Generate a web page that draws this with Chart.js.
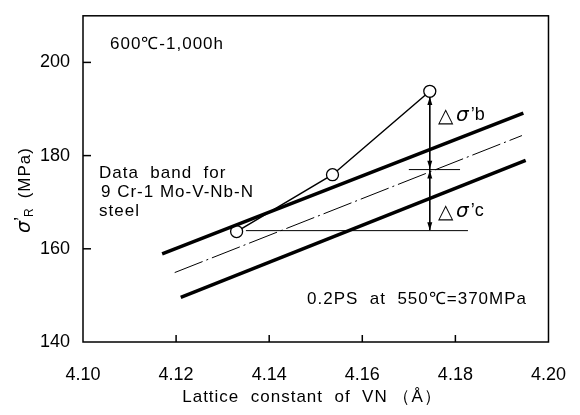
<!DOCTYPE html>
<html>
<head>
<meta charset="utf-8">
<script src="https://cdn.jsdelivr.net/npm/chart.js@4.4.1/dist/chart.umd.min.js"></script>
<style>
  html, body { margin: 0; padding: 0; background: #fff; }
  #wrap { width: 580px; height: 415px; }
</style>
</head>
<body>
<div id="wrap"><canvas id="chart" width="580" height="415"></canvas></div>
<script>
// ejes
const xTicks = [4.10, 4.12, 4.14, 4.16, 4.18, 4.20];
const yTicks = [140, 160, 180, 200];

// puntos medidos
const measuredX = [4.133, 4.1536, 4.1745];
const measuredY = [163.7, 175.9, 193.8];

// banda de datos 9Cr-1Mo-V-Nb-N
const upperX = [4.117, 4.1946];
const upperY = [158.9, 189.1];
const centerX = [4.1197, 4.1943];
const centerY = [154.9, 184.3];
const lowerX = [4.121, 4.1951];
const lowerY = [149.6, 179.0];

// cotas
const dimX = [4.1745, 4.1745];
const dimY = [192.6, 164.0];
const refX = [4.135, 4.1827];
const refY = [163.9, 163.9];
const markX = [4.170, 4.181];
const markY = [177.0, 177.0];

const pts = (xs, ys) => xs.map((x, i) => ({ x, y: ys[i] }));
const FONT = "'Liberation Sans', Arial, sans-serif";

const line = (data, width, extra = {}) => Object.assign({
  data,
  borderColor: "#000",
  borderWidth: width,
  pointRadius: 0,
  showLine: true,
  fill: false
}, extra);

const decor = {
  id: "decor",
  afterDraw(chart) {
    const { ctx, chartArea: a, scales: { x, y } } = chart;
    ctx.save();
    ctx.strokeStyle = "#000";
    ctx.fillStyle = "#000";

    // marco
    ctx.lineWidth = 1.5;
    ctx.strokeRect(a.left, a.top, a.right - a.left, a.bottom - a.top);

    // marcas hacia dentro
    xTicks.slice(1, -1).forEach(v => {
      const px = x.getPixelForValue(v);
      ctx.beginPath(); ctx.moveTo(px, a.bottom); ctx.lineTo(px, a.bottom - 7); ctx.stroke();
    });
    yTicks.slice(1).forEach(v => {
      const py = y.getPixelForValue(v);
      ctx.beginPath(); ctx.moveTo(a.left, py); ctx.lineTo(a.left + 8, py); ctx.stroke();
    });

    // puntas de flecha
    const ax = x.getPixelForValue(dimX[0]);
    const head = (yv, dir) => {
      const py = y.getPixelForValue(yv);
      ctx.beginPath();
      ctx.moveTo(ax, py);
      ctx.lineTo(ax - 2.5, py - dir * 8);
      ctx.lineTo(ax + 2.5, py - dir * 8);
      ctx.closePath();
      ctx.fill();
    };
    head(dimY[0], -1);
    head(markY[0] + 0.2, 1);
    head(markY[0] - 0.2, -1);
    head(dimY[1], 1);

    // textos
    ctx.textBaseline = "middle";
    ctx.textAlign = "left";
    ctx.font = "17px " + FONT;
    ctx.letterSpacing = "1px";
    ctx.fillText("600℃-1,000h", 110, 44);
    ctx.fillText("Data  band  for", 99, 173);
    ctx.fillText("9 Cr-1 Mo-V-Nb-N", 101, 192);
    ctx.fillText("steel", 99, 211);
    ctx.fillText("0.2PS  at  550℃=370MPa", 307, 299);
    ctx.letterSpacing = "0px";

    const delta = (label, px, py) => {
      ctx.font = "20px " + FONT;
      ctx.fillText("△", px, py);
      let w = ctx.measureText("△").width + 3;
      ctx.font = "italic 20px 'DejaVu Sans', sans-serif";
      ctx.fillText("σ", px + w, py);
      w += ctx.measureText("σ").width + 2;
      ctx.font = "18px " + FONT;
      ctx.fillText("’" + label, px + w, py - 1);
    };
    delta("b", 438, 116);
    delta("c", 438, 212);

    // titulo eje x
    ctx.textAlign = "center";
    ctx.font = "17px " + FONT;
    ctx.letterSpacing = "1px";
    ctx.fillText("Lattice  constant  of  VN （Å）", 312, 397);

    // titulo eje y
    ctx.translate(25, 173);
    ctx.rotate(-Math.PI / 2);
    ctx.textAlign = "left";
    let cx = -60;
    ctx.letterSpacing = "0px";
    ctx.font = "italic 19px 'DejaVu Sans', sans-serif";
    ctx.fillText("σ", cx, 0);
    cx += ctx.measureText("σ").width;
    ctx.font = "18px " + FONT;
    ctx.fillText("’", cx, -3);
    cx += ctx.measureText("’").width;
    ctx.font = "12px " + FONT;
    ctx.fillText("R", cx, 5);
    cx += ctx.measureText("R").width + 10;
    ctx.font = "17px " + FONT;
    ctx.letterSpacing = "1px";
    ctx.fillText("(MPa)", cx, 0);
    ctx.restore();
  }
};

new Chart(document.getElementById("chart"), {
  type: "scatter",
  data: {
    datasets: [
      line(pts(upperX, upperY), 3.5),
      line(pts(lowerX, lowerY), 3.5),
      line(pts(centerX, centerY), 1, { borderDash: [30, 4, 2, 4] }),
      line(pts(refX, refY), 1),
      line(pts(markX, markY), 1),
      line(pts(dimX, dimY), 1),
      line(pts(measuredX, measuredY), 1.5, {
        pointRadius: 6,
        pointBackgroundColor: "#fff",
        pointBorderColor: "#000",
        pointBorderWidth: 1.3
      })
    ]
  },
  options: {
    responsive: false,
    animation: false,
    layout: { padding: { left: 0, right: 30, top: 12, bottom: 0 } },
    plugins: {
      legend: { display: false },
      tooltip: { enabled: false }
    },
    scales: {
      x: {
        type: "linear",
        min: 4.10,
        max: 4.20,
        afterBuildTicks: s => { s.ticks = xTicks.map(v => ({ value: v })); },
        afterFit: s => { s.height = 73; },
        grid: { display: false },
        border: { display: false },
        ticks: {
          padding: 14,
          color: "#000",
          maxRotation: 0,
          font: { family: FONT, size: 18 },
          callback: v => v.toFixed(2)
        }
      },
      y: {
        type: "linear",
        min: 140,
        max: 210,
        afterBuildTicks: s => { s.ticks = yTicks.map(v => ({ value: v })); },
        afterFit: s => { s.width = 83; },
        grid: { display: false },
        border: { display: false },
        ticks: {
          padding: 5,
          color: "#000",
          font: { family: FONT, size: 18 }
        }
      }
    }
  },
  plugins: [decor]
});
</script>
</body>
</html>
